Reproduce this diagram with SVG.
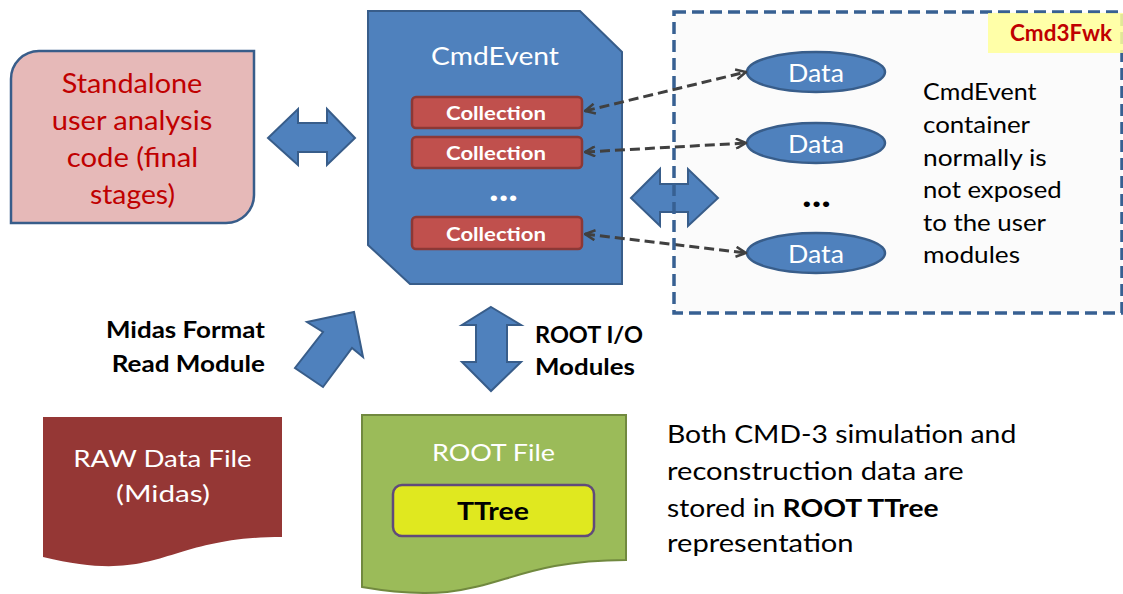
<svg xmlns="http://www.w3.org/2000/svg" width="1123" height="594" viewBox="0 0 1123 594">
<defs>
<style>
text{font-family:Lato,"Open Sans","DejaVu Sans",sans-serif}
.bold{font-weight:bold}
.white{fill:#ffffff}
.blk{fill:#000000}
.red{fill:#c00000}
.barrow{fill:#4f81bd;stroke:#385d8a;stroke-width:2;stroke-linejoin:miter}
.coll{fill:#c0504d;stroke:#8c3836;stroke-width:2.5}
.data{fill:#4f81bd;stroke:#385d8a;stroke-width:2.5}
.dash{fill:none;stroke:#404040;stroke-width:3;stroke-dasharray:10 5}
</style>
<marker id="vhead" viewBox="0 0 12 12" refX="11" refY="6" markerWidth="12" markerHeight="12" markerUnits="userSpaceOnUse" orient="auto-start-reverse">
<path d="M1,1 L11,6 L1,11" fill="none" stroke="#404040" stroke-width="2.5"/>
</marker>
</defs>
<rect width="1123" height="594" fill="#ffffff"/>

<g id="framework">
<rect x="674" y="12" width="448" height="301" fill="#fbfbfb"/>
</g>

<g id="standalone">
<path d="M11,223 L11,79 A28,28 0 0 1 39,51 L254,51 L254,195 A28,28 0 0 1 226,223 Z" fill="#e6b9b8" stroke="#385d8a" stroke-width="2.5"/>
<text class="red" font-size="27" x="61.7" y="93" textLength="140.6" lengthAdjust="spacingAndGlyphs">Standalone</text>
<text class="red" font-size="27" x="51.7" y="130" textLength="160.6" lengthAdjust="spacingAndGlyphs">user analysis</text>
<text class="red" font-size="27" x="66.7" y="167" textLength="131.6" lengthAdjust="spacingAndGlyphs">code (final</text>
<text class="red" font-size="27" x="90" y="204" textLength="85" lengthAdjust="spacingAndGlyphs">stages)</text>
</g>

<g id="cmdevent">
<path d="M368,11 L580,11 L622,52 L622,284 L410,284 L368,245 Z" fill="#4f81bd" stroke="#385d8a" stroke-width="2"/>
<text class="white" font-size="25" x="431" y="65" textLength="128" lengthAdjust="spacingAndGlyphs">CmdEvent</text>
<rect class="coll" x="412" y="97" width="170" height="31" rx="4"/>
<text class="bold white" font-size="19" x="446" y="120" textLength="100" lengthAdjust="spacingAndGlyphs">Collection</text>
<rect class="coll" x="412" y="137" width="170" height="31" rx="4"/>
<text class="bold white" font-size="19" x="446" y="160" textLength="100" lengthAdjust="spacingAndGlyphs">Collection</text>
<text class="bold white" font-size="36" x="489" y="201" textLength="29" lengthAdjust="spacingAndGlyphs">...</text>
<rect class="coll" x="412" y="217" width="170" height="32" rx="4"/>
<text class="bold white" font-size="19" x="446" y="241" textLength="100" lengthAdjust="spacingAndGlyphs">Collection</text>
</g>

<g id="data1">
<ellipse class="data" cx="816" cy="72" rx="69" ry="20"/>
<text class="white" font-size="24.5" x="788" y="82" textLength="56" lengthAdjust="spacingAndGlyphs">Data</text>
</g>
<g id="data2">
<ellipse class="data" cx="816" cy="143" rx="69" ry="20"/>
<text class="white" font-size="24.5" x="788" y="152.5" textLength="56" lengthAdjust="spacingAndGlyphs">Data</text>
</g>
<g id="data-dots">
<text class="bold blk" font-size="36" x="802" y="206.5" textLength="29" lengthAdjust="spacingAndGlyphs">...</text>
</g>
<g id="data3">
<ellipse class="data" cx="816" cy="253" rx="69" ry="20"/>
<text class="white" font-size="24.5" x="788" y="263" textLength="56" lengthAdjust="spacingAndGlyphs">Data</text>
</g>

<g id="note-container">
<text class="blk" font-size="23" x="923" y="100" textLength="113.4" lengthAdjust="spacingAndGlyphs">CmdEvent</text>
<text class="blk" font-size="23" x="923" y="132.7" textLength="107" lengthAdjust="spacingAndGlyphs">container</text>
<text class="blk" font-size="23" x="923" y="165.5" textLength="123.7" lengthAdjust="spacingAndGlyphs">normally is</text>
<text class="blk" font-size="23" x="923" y="198.3" textLength="138.7" lengthAdjust="spacingAndGlyphs">not exposed</text>
<text class="blk" font-size="23" x="923" y="230.7" textLength="123" lengthAdjust="spacingAndGlyphs">to the user</text>
<text class="blk" font-size="23" x="923" y="263.3" textLength="97" lengthAdjust="spacingAndGlyphs">modules</text>
</g>

<g id="midas-label">
<text class="bold blk" font-size="22" x="106" y="338.3" textLength="159" lengthAdjust="spacingAndGlyphs">Midas Format</text>
<text class="bold blk" font-size="22" x="111.7" y="371.7" textLength="153.3" lengthAdjust="spacingAndGlyphs">Read Module</text>
</g>

<g id="rawfile">
<path d="M43,417 L282,417 L282,537 C162,537 162,586 43,557 Z" fill="#953735"/>
<text class="white" font-size="24" x="73.3" y="466.7" textLength="178.4" lengthAdjust="spacingAndGlyphs">RAW Data File</text>
<text class="white" font-size="24" x="116" y="502" textLength="94" lengthAdjust="spacingAndGlyphs">(Midas)</text>
</g>

<g id="rootio-label">
<text class="bold blk" font-size="22" x="535" y="343.3" textLength="108" lengthAdjust="spacingAndGlyphs">ROOT I/O</text>
<text class="bold blk" font-size="22" x="535" y="375" textLength="100" lengthAdjust="spacingAndGlyphs">Modules</text>
</g>

<g id="rootfile">
<path d="M362,415 L626,415 L626,560 C494,560 494,610 362,587 Z" fill="#9bbb59" stroke="#71893f" stroke-width="2"/>
<text class="white" font-size="24" x="432" y="460.7" textLength="123" lengthAdjust="spacingAndGlyphs">ROOT File</text>
<rect x="393" y="485" width="201" height="51" rx="9" fill="#e0e81f" stroke="#604a7b" stroke-width="2.5"/>
<text class="bold blk" font-size="24" x="457" y="520" textLength="72" lengthAdjust="spacingAndGlyphs">TTree</text>
</g>

<g id="note-root">
<text class="blk" font-size="25" x="667" y="443" textLength="349.3" lengthAdjust="spacingAndGlyphs">Both CMD-3 simulation and</text>
<text class="blk" font-size="25" x="667" y="480" textLength="296.6" lengthAdjust="spacingAndGlyphs">reconstruction data are</text>
<text class="blk" font-size="25" x="667" y="517" textLength="271.6" lengthAdjust="spacingAndGlyphs">stored in <tspan font-weight="bold">ROOT TTree</tspan></text>
<text class="blk" font-size="25" x="667" y="551.7" textLength="186.6" lengthAdjust="spacingAndGlyphs">representation</text>
</g>

<g id="connectors">
<path class="barrow" d="M268,138 L298,109 L298,123 L327,123 L327,109 L355,138 L327,165 L327,152 L298,152 L298,165 Z"/>
<path class="barrow" d="M631,198 L660,169 L660,184 L688,184 L688,169 L718,198 L688,226 L688,212 L660,212 L660,226 Z"/>
<path class="barrow" d="M491,307 L521,325 L507,325 L507,362 L521,362 L491,391 L462,362 L476,362 L476,325 L462,325 Z"/>
<path class="barrow" d="M354,312 L363,357 L352,348 L323,387 L295,368 L323,332 L307,322 Z"/>
<path class="dash" d="M585,111 L746,72" marker-start="url(#vhead)" marker-end="url(#vhead)"/>
<path class="dash" d="M585,152 L746,143" marker-start="url(#vhead)" marker-end="url(#vhead)"/>
<path class="dash" d="M585,234 L746,253" marker-start="url(#vhead)" marker-end="url(#vhead)"/>
</g>

<g id="framework-border">
<rect x="674" y="12" width="448" height="301" fill="none" stroke="#376092" stroke-width="3.5" stroke-dasharray="12 6"/>
<rect x="988" y="13" width="135" height="40" fill="#ffff99" fill-opacity="0.85"/>
<text font-family="'Liberation Sans',Arial,sans-serif" font-weight="bold" font-size="22" fill="#c00000" x="1010" y="40.5" textLength="102" lengthAdjust="spacingAndGlyphs">Cmd3Fwk</text>
</g>
</svg>
